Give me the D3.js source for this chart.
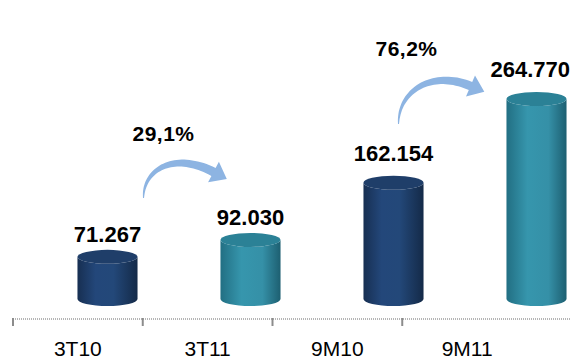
<!DOCTYPE html>
<html lang="pt">
<head>
<meta charset="utf-8">
<script src="https://d3js.org/d3.v7.min.js"></script>
<title>Receita</title>
<style>
  body { margin: 0; background: #fff; }
  text { font-family: "Liberation Sans", Arial, sans-serif; }
  .val { font-weight: bold; font-size: 22px; fill: #000; }
  .pct { font-weight: bold; font-size: 21px; fill: #000; letter-spacing: 0.5px; }
  .cat { font-size: 21px; fill: #000; }
</style>
</head>
<body>
<script>
// data
var categories = ["3T10", "3T11", "9M10", "9M11"];
var values = [71267, 92030, 162154, 264770];
var valueLabels = ["71.267", "92.030", "162.154", "264.770"];
var series = ["navy", "teal", "navy", "teal"];
var growthFrom = [0, 2];
var growthTo = [1, 3];
var growthLabels = ["29,1%", "76,2%"];

var width = 571, height = 360;

var svg = d3.select("body").append("svg")
  .attr("width", width).attr("height", height);

// scales
var xAxisScale = d3.scaleBand().domain(categories).range([13, 532]);
var xBar = d3.scaleBand().domain(categories).range([36, 608])
  .paddingInner(0.58).paddingOuter(0.29);
var y = d3.scaleLinear().domain([0, d3.max(values)]).range([315, 99]);
var base = y(0) - 16;
var ry = 7;

// gradients
var defs = svg.append("defs");
var grads = {
  navy: [["0%", "#172f52"], ["30%", "#23477a"], ["60%", "#234879"], ["100%", "#142a48"]],
  teal: [["0%", "#226f83"], ["35%", "#3696ad"], ["70%", "#3590a7"], ["100%", "#1d5f71"]]
};
var tops = { navy: "#1f3e69", teal: "#2b8196" };
Object.keys(grads).forEach(function(k) {
  var g = defs.append("linearGradient").attr("id", "g-" + k)
    .attr("x1", "0%").attr("x2", "100%").attr("y1", "0%").attr("y2", "0%");
  grads[k].forEach(function(s) {
    g.append("stop").attr("offset", s[0]).attr("stop-color", s[1]);
  });
});

// axis
svg.append("line")
  .attr("x1", 13).attr("x2", width).attr("y1", 319).attr("y2", 319)
  .attr("stroke", "#b5b5b5").attr("stroke-width", 2).attr("stroke-dasharray", "1 1");
svg.selectAll(".tick").data(categories).enter().append("line")
  .attr("x1", function(d) { return xAxisScale(d); })
  .attr("x2", function(d) { return xAxisScale(d); })
  .attr("y1", 318).attr("y2", 326)
  .attr("stroke", "#8c8c8c").attr("stroke-width", 2);
svg.selectAll(".cat").data(categories).enter().append("text")
  .attr("class", "cat")
  .attr("x", function(d) { return xAxisScale(d) + xAxisScale.bandwidth() / 2; })
  .attr("y", 356)
  .attr("text-anchor", "middle")
  .text(function(d) { return d; });

// cylinders
var rx = xBar.bandwidth() / 2;
var bars = svg.selectAll(".bar").data(categories).enter().append("g");
bars.append("path")
  .attr("fill", function(d, i) { return "url(#g-" + series[i] + ")"; })
  .attr("d", function(d, i) {
    var l = xBar(d), r = l + 2 * rx, t = y(values[i]);
    return "M" + l + "," + t + "L" + l + "," + base +
      "A" + rx + "," + ry + " 0 0 0 " + r + "," + base +
      "L" + r + "," + t +
      "A" + rx + "," + ry + " 0 0 1 " + l + "," + t + "Z";
  });
bars.append("ellipse")
  .attr("cx", function(d) { return xBar(d) + rx; })
  .attr("cy", function(d, i) { return y(values[i]); })
  .attr("rx", rx).attr("ry", ry)
  .attr("fill", function(d, i) { return tops[series[i]]; });

svg.selectAll(".val").data(categories).enter().append("text")
  .attr("class", "val")
  .attr("x", function(d) { return xBar(d) + rx; })
  .attr("y", function(d, i) { return y(values[i]) - ry - (values[i] > 100000 ? 15 : 8); })
  .attr("text-anchor", "middle")
  .text(function(d, i) { return valueLabels[i]; })
  .each(function() {
    // keep labels inside the right edge
    var b = this.getBBox();
    if (b.x + b.width > width - 1) {
      d3.select(this).attr("x", +d3.select(this).attr("x") - (b.x + b.width - width + 1));
    }
  });

// growth arrows (annotation geometry, offsets from bar centres)
var arrowGeom = [
  { p: [[36, 198], [36, 168], [68, 152], [106, 172]], lx: 56, ly: 141 },
  { p: [[5, 124], [5, 90], [39, 70], [77, 86]], lx: 13, ly: 56 }
];

function arrowPath(P) {
  function pt(t) {
    var u = 1 - t;
    return [
      u*u*u*P[0][0] + 3*u*u*t*P[1][0] + 3*u*t*t*P[2][0] + t*t*t*P[3][0],
      u*u*u*P[0][1] + 3*u*u*t*P[1][1] + 3*u*t*t*P[2][1] + t*t*t*P[3][1]
    ];
  }
  function tan(t) {
    var u = 1 - t;
    var dx = 3*u*u*(P[1][0]-P[0][0]) + 6*u*t*(P[2][0]-P[1][0]) + 3*t*t*(P[3][0]-P[2][0]);
    var dy = 3*u*u*(P[1][1]-P[0][1]) + 6*u*t*(P[2][1]-P[1][1]) + 3*t*t*(P[3][1]-P[2][1]);
    var n = Math.sqrt(dx*dx + dy*dy);
    return [dx / n, dy / n];
  }
  var N = 40, left = [], right = [];
  for (var i = 0; i <= N; i++) {
    var t = i / N, c = pt(t), d = tan(t), w = (1 + 8 * Math.pow(t, 0.8)) / 2;
    left.push([c[0] - d[1] * w, c[1] + d[0] * w]);
    right.push([c[0] + d[1] * w, c[1] - d[0] * w]);
  }
  var e = pt(1), de = tan(1), hw = 11.5, hl = 15;
  var tip = [e[0] + de[0] * hl, e[1] + de[1] * hl];
  var hL = [e[0] - de[1] * hw, e[1] + de[0] * hw];
  var hR = [e[0] + de[1] * hw, e[1] - de[0] * hw];
  var pts = right.concat([hR, tip, hL]).concat(left.reverse());
  return "M" + pts.map(function(p) { return p[0].toFixed(1) + "," + p[1].toFixed(1); }).join("L") + "Z";
}

growthLabels.forEach(function(lbl, i) {
  var cx = xBar(categories[growthFrom[i]]) + rx;
  var g = arrowGeom[i];
  var P = g.p.map(function(p) { return [cx + p[0], p[1]]; });
  svg.append("path").attr("d", arrowPath(P)).attr("fill", "#8db4e2");
  svg.append("text").attr("class", "pct")
    .attr("x", cx + g.lx).attr("y", g.ly)
    .attr("text-anchor", "middle").text(lbl);
});
</script>
</body>
</html>
